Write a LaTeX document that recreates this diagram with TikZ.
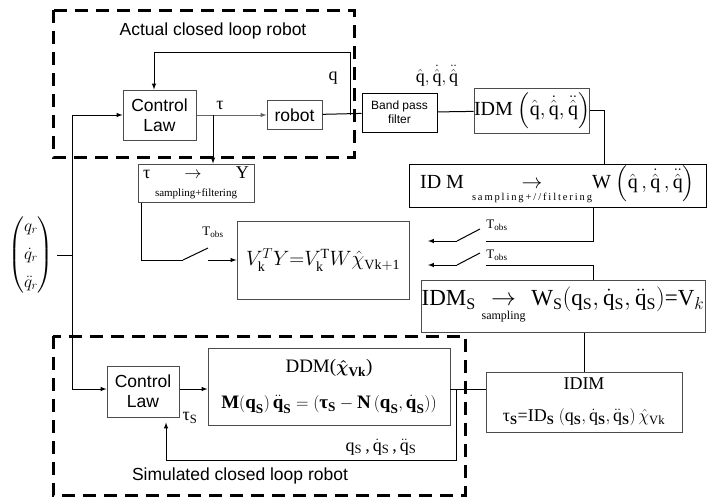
\documentclass[tikz,border=0pt]{standalone}
\usepackage{amsmath}
\usepackage{amssymb}
\usepackage{fontspec}
\setmainfont{Liberation Serif}
\setsansfont{Liberation Sans}
\setmathrm{Liberation Serif}
\usetikzlibrary{arrows, calc, positioning}
\tikzstyle{bloc} = [
    rectangle,
    draw = black!70,
    line width = 1pt,
    inner sep = 0pt,
    text centered,
]
\tikzstyle{cadre} = [
    line width = 3pt,
    dash pattern = on 13pt off 8pt,
]
\tikzstyle{arial} = [
    font = \sffamily\fontsize{17.5}{20}\selectfont,
]
\tikzstyle{times} = [
    font = \fontsize{18}{22}\selectfont,
]
\newcommand{\sous}[1]{{\fontsize{10.5}{10.5}\selectfont\addfontfeatures{LetterSpace = 18}#1}}

\begin{document}
\begin{tikzpicture} [x = 1pt, y = -1pt, >=latex, line width = 1pt]
    \useasboundingbox (0, 0) rectangle (722, 498);

    % boucle reelle
    \draw[cadre] (53, 10) rectangle (354, 157);
    \node (Titre) [arial] at (213, 31) {Actual closed loop robot};
    \node (Commande) [bloc, arial, align = center, minimum width = 73pt, minimum height = 50pt] at (159.5, 115) {Control\\Law};
    \node (Robot) [bloc, arial, minimum width = 55pt, minimum height = 29pt] at (294.5, 115) {robot};
    \node (Tau) [times] at (220, 105) {τ};
    \node (Q) [times] at (333, 78) {q};

    \node (Filtre) [bloc, draw = black, align = center, minimum width = 75pt, minimum height = 39pt, font = \sffamily\fontsize{12}{14}\selectfont] at (399.5, 112.5) {Band pass\\filter};
    \node (QChapeau) [times] at (437, 76) {$\hat{\mathrm{q}},\dot{\hat{\mathrm{q}}},\ddot{\hat{\mathrm{q}}}$};
    \node (IDM) [bloc, minimum width = 112pt, minimum height = 45pt, font = \fontsize{20}{22}\selectfont] at (532, 110.5) {IDM $\left(\hat{\mathrm{q}},\dot{\hat{\mathrm{q}}},\ddot{\hat{\mathrm{q}}}\right)$};
    \node (IDMW) [bloc, draw = black, minimum width = 297pt, minimum height = 43pt, font = \fontsize{20}{22}\selectfont] at (557.5, 185.5) {ID M\hspace{0.4em}$\underset{\text{\sous{sampling+//filtering}}}{\rightarrow}$W $\left(\hat{\mathrm{q}}\,,\dot{\hat{\mathrm{q}}}\,,\ddot{\hat{\mathrm{q}}}\right)$};

    \node (TauY) [bloc, times, align = center, minimum width = 116pt, minimum height = 38pt] at (196, 183) {τ\hspace{1.9em}$\rightarrow$\hspace{1.9em}Y\\[-4pt]{\fontsize{11}{11}\selectfont sampling+filtering}};
    \node (Estimation) [bloc, minimum width = 172pt, minimum height = 78pt, font = \fontsize{20}{22}\selectfont] at (323, 260) {$V_{\mathrm{k}}^{T}Y{=}V_{\mathrm{k}}^{\mathrm{T}}W\hat{\chi}_{\mathrm{Vk+1}}$};
    \node (IDMS) [bloc, minimum width = 284pt, minimum height = 52pt, font = \fontsize{23}{25}\selectfont] at (563, 306) {IDM$_{\mathrm{S}}$ $\underset{\text{\fontsize{12}{12}\selectfont sampling}}{\rightarrow}$ W$_{\mathrm{S}}$$\left(\mathrm{q}_{\mathrm{S}},\dot{\mathrm{q}}_{\mathrm{S}},\ddot{\mathrm{q}}_{\mathrm{S}}\right)$=V$_{k}$};

    \node (Tobs) [font = \fontsize{13}{13}\selectfont] at (213, 232) {T$_{\text{obs}}$};
    \node (TobsW) [font = \fontsize{13}{13}\selectfont] at (497, 225) {T$_{\text{obs}}$};
    \node (TobsS) [font = \fontsize{13}{13}\selectfont] at (497, 255) {T$_{\text{obs}}$};

    \node (Qr) [times] at (31, 255) {$\begin{pmatrix} q_r\\[6pt] \dot{q}_r\\[6pt] \ddot{q}_r \end{pmatrix}$};

    % boucle simulee
    \draw[cadre] (53, 336) rectangle (465, 495);
    \node (CommandeS) [bloc, arial, align = center, minimum width = 72pt, minimum height = 51pt] at (143, 391.5) {Control\\Law};
    \node (DDM) [bloc, align = center, minimum width = 242pt, minimum height = 77pt, font = \fontsize{19}{36}\selectfont] at (329, 386.5) {DDM($\boldsymbol{\hat{\chi}}_{\mathbf{Vk}}$)\\{\bfseries M$\left(\text{q}_{\text{S}}\right)\ddot{\text{q}}_{\text{S}}=\left(\text{τ}_{\text{S}}-\text{N}\left(\text{q}_{\text{S}},\dot{\text{q}}_{\text{S}}\right)\right)$}};
    \node (TauS) [times] at (190, 418) {τ$_{\mathrm{S}}$};
    \node (QS) [times] at (381, 447) {q$_{\mathrm{S}}$\,,\,$\dot{\mathrm{q}}_{\mathrm{S}}$\,,\,$\ddot{\mathrm{q}}_{\mathrm{S}}$};
    \node (TitreS) [arial] at (240, 476) {Simulated closed loop robot};
    \node (IDIM) [bloc, align = center, minimum width = 196pt, minimum height = 60pt, font = \fontsize{18}{32}\selectfont] at (584, 402) {IDIM\\τ$_{\text{\textbf{S}}}$=ID$_{\text{\textbf{S}}}$ $\left(\mathrm{q}_{\text{\textbf{S}}},\dot{\mathrm{q}}_{\text{\textbf{S}}},\ddot{\mathrm{q}}_{\text{\textbf{S}}}\right)\hat{\chi}_{\mathrm{Vk}}$};

    % points de passage
    \coordinate (J1) at (72, 115);
    \coordinate (J2) at (72, 389);
    \coordinate (T1) at (213, 115);
    \coordinate (F1) at (350, 115);
    \coordinate (F2) at (154, 52);
    \coordinate (R1) at (604, 110.5);
    \coordinate (S1) at (183, 260);
    \coordinate (S1b) at (208, 260);
    \coordinate (R2) at (593, 241);
    \coordinate (SW1a) at (486, 241);
    \coordinate (SW1b) at (457, 241);
    \coordinate (A1) at (428, 241);
    \coordinate (R3) at (593, 265);
    \coordinate (SW2a) at (486, 265);
    \coordinate (SW2b) at (457, 265);
    \coordinate (A2) at (428, 265);
    \coordinate (D1) at (450, 389);
    \coordinate (D2) at (456, 389);
    \coordinate (D3) at (166, 460);

    \draw[-] (J1) -- (J2);
    \draw[-] (Qr.east) -- (Qr.east -| J1);
    \draw[->] (J1) -- (Commande);
    \draw[->, black!60] (Commande) -- (Robot);
    \draw[->] (T1) -- (T1 |- TauY.north);
    \draw[-] (Robot) -- (Filtre);
    \draw[->] (F1) |- (F2) -- (F2 |- Commande.north);
    \draw[-] (Filtre) -- (IDM);
    \draw[-] (IDM) -- (R1) -- (R1 |- IDMW.north);

    \draw[-] ([xshift = 4pt]TauY.south west) |- (S1);
    \draw[-] (S1) -- ++(25, -12);
    \draw[->] (S1b) -- (Estimation);

    \draw[-] (R2 |- IDMW.south) |- (SW1a);
    \draw[-] (SW1b) -- ++(23, -12);
    \draw[->] (SW1b) -- (A1);
    \draw[-] (R3 |- IDMS.north) |- (SW2a);
    \draw[-] (SW2b) -- ++(23, -12);
    \draw[->] (SW2b) -- (A2);

    \draw[-] (IDIM.north) -- (IDIM.north |- IDMS.south);
    \draw[->] (J2) -- (J2 -| CommandeS.west);
    \draw[->] (J2 -| CommandeS.east) -- (J2 -| DDM.west);
    \draw[-] (D1) -- (D1 -| IDIM.west);
    \draw[->] (D2) |- (D3) -- ([yshift = -5pt]D3 |- CommandeS.south);
\end{tikzpicture}
\end{document}
